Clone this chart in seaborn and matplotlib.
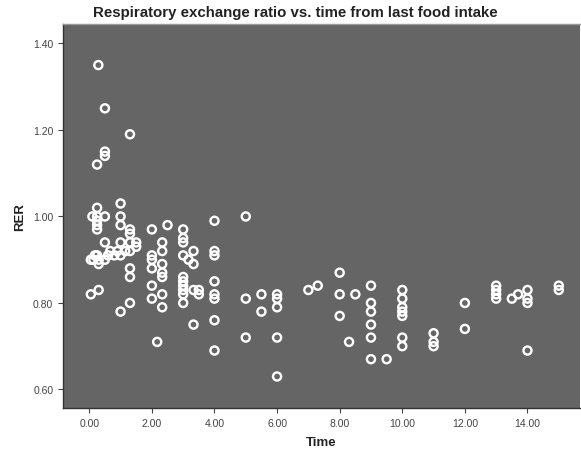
import matplotlib
matplotlib.use("Agg")
import matplotlib.pyplot as plt
import seaborn as sns
import numpy as np
import pandas as pd
from matplotlib.ticker import FormatStrFormatter

# time from last food intake (h) and RER
time = [
    0.05, 0.1, 0.05, 0.13, 0.18,
    0.25, 0.25, 0.25, 0.25, 0.25, 0.25, 0.25, 0.29,
    0.3, 0.3, 0.3,
    0.5, 0.5, 0.5, 0.5, 0.5, 0.5,
    0.6, 0.67, 0.8, 0.9, 1.15,
    1.0, 1.0, 1.0, 1.0, 1.0, 1.0,
    1.3, 1.3, 1.3, 1.3, 1.3, 1.3, 1.3, 1.3,
    1.5, 1.5,
    2.0, 2.0, 2.0, 2.0, 2.0, 2.0,
    2.17,
    2.33, 2.33, 2.33, 2.33, 2.33, 2.33, 2.33,
    2.5,
    3.0, 3.0, 3.0, 3.0, 3.0, 3.0, 3.0, 3.0, 3.0, 3.0,
    3.17,
    3.33, 3.33, 3.33, 3.33,
    3.5, 3.5,
    4.0, 4.0, 4.0, 4.0, 4.0, 4.0, 4.0, 4.0,
    5.0, 5.0, 5.0,
    5.5, 5.5,
    6.0, 6.0, 6.0, 6.0, 6.0,
    7.0, 7.3,
    8.0, 8.0, 8.0, 8.3, 8.5,
    9.0, 9.0, 9.0, 9.0, 9.0, 9.0, 9.5,
    10.0, 10.0, 10.0, 10.0, 10.0, 10.0, 10.0,
    11.0, 11.0, 11.0,
    12.0, 12.0,
    13.0, 13.0, 13.0, 13.0, 13.5, 13.7,
    14.0, 14.0, 14.0, 14.0,
    15.0, 15.0,
]
rer = [
    0.82, 1.00, 0.90, 0.90, 0.91,
    1.02, 1.00, 0.99, 0.98, 0.97, 0.91, 1.12, 1.35,
    0.89, 0.90, 0.83,
    1.25, 1.15, 1.14, 1.00, 0.94, 0.90,
    0.91, 0.92, 0.91, 0.92, 0.92,
    1.03, 1.00, 0.98, 0.94, 0.91, 0.78,
    1.19, 0.97, 0.96, 0.94, 0.92, 0.88, 0.86, 0.80,
    0.94, 0.93,
    0.97, 0.91, 0.90, 0.88, 0.84, 0.81,
    0.71,
    0.94, 0.92, 0.89, 0.87, 0.86, 0.82, 0.79,
    0.98,
    0.97, 0.95, 0.94, 0.91, 0.86, 0.85, 0.84, 0.83, 0.82, 0.80,
    0.90,
    0.92, 0.89, 0.83, 0.75,
    0.83, 0.82,
    0.99, 0.92, 0.91, 0.85, 0.82, 0.81, 0.76, 0.69,
    1.00, 0.81, 0.72,
    0.82, 0.78,
    0.82, 0.81, 0.79, 0.72, 0.63,
    0.83, 0.84,
    0.87, 0.82, 0.77, 0.71, 0.82,
    0.84, 0.80, 0.78, 0.75, 0.72, 0.67, 0.67,
    0.83, 0.81, 0.79, 0.78, 0.77, 0.72, 0.70,
    0.73, 0.71, 0.70,
    0.80, 0.74,
    0.84, 0.83, 0.82, 0.81, 0.81, 0.82,
    0.83, 0.81, 0.80, 0.69,
    0.84, 0.83,
]
x_ticks = [0, 2, 4, 6, 8, 10, 12, 14]
y_ticks = [0.60, 0.80, 1.00, 1.20, 1.40]

df = pd.DataFrame({"Time": time, "RER": rer})

sns.set_style("ticks")
plt.rcParams["font.family"] = ["Liberation Sans", "DejaVu Sans"]

fig = plt.figure(figsize=(5.81, 4.52), dpi=100)
ax = fig.add_axes([0.1084, 0.095, 0.890, 0.8497])
ax.set_facecolor("#656565")

sns.scatterplot(data=df, x="Time", y="RER", ax=ax, marker="o",
                s=34, facecolor="none", edgecolor="white", linewidth=1.7)

ax.set_xlim(-0.84, 15.68)
ax.set_ylim(0.557, 1.445)
ax.set_xticks(x_ticks)
ax.set_yticks(y_ticks)
ax.xaxis.set_major_formatter(FormatStrFormatter("%.2f"))
ax.yaxis.set_major_formatter(FormatStrFormatter("%.2f"))
ax.tick_params(labelsize=7.5, colors="#444444", length=3.5, width=0.8)

for side in ["left", "bottom"]:
    ax.spines[side].set_color("#333333")
    ax.spines[side].set_linewidth(1.0)
ax.spines["top"].set_color("#999999")
ax.spines["top"].set_linewidth(1.0)
ax.spines["right"].set_visible(False)

ax.set_xlabel("Time", fontsize=9.5, fontweight="bold", color="#222222", labelpad=6)
ax.set_ylabel("RER", fontsize=9.5, fontweight="bold", color="#222222", labelpad=5)
fig.text(0.509, 0.972, "Respiratory exchange ratio vs. time from last food intake",
         ha="center", va="center", fontsize=10.8, fontweight="bold", color="#222222")

fig.savefig("out.png", dpi=100)
